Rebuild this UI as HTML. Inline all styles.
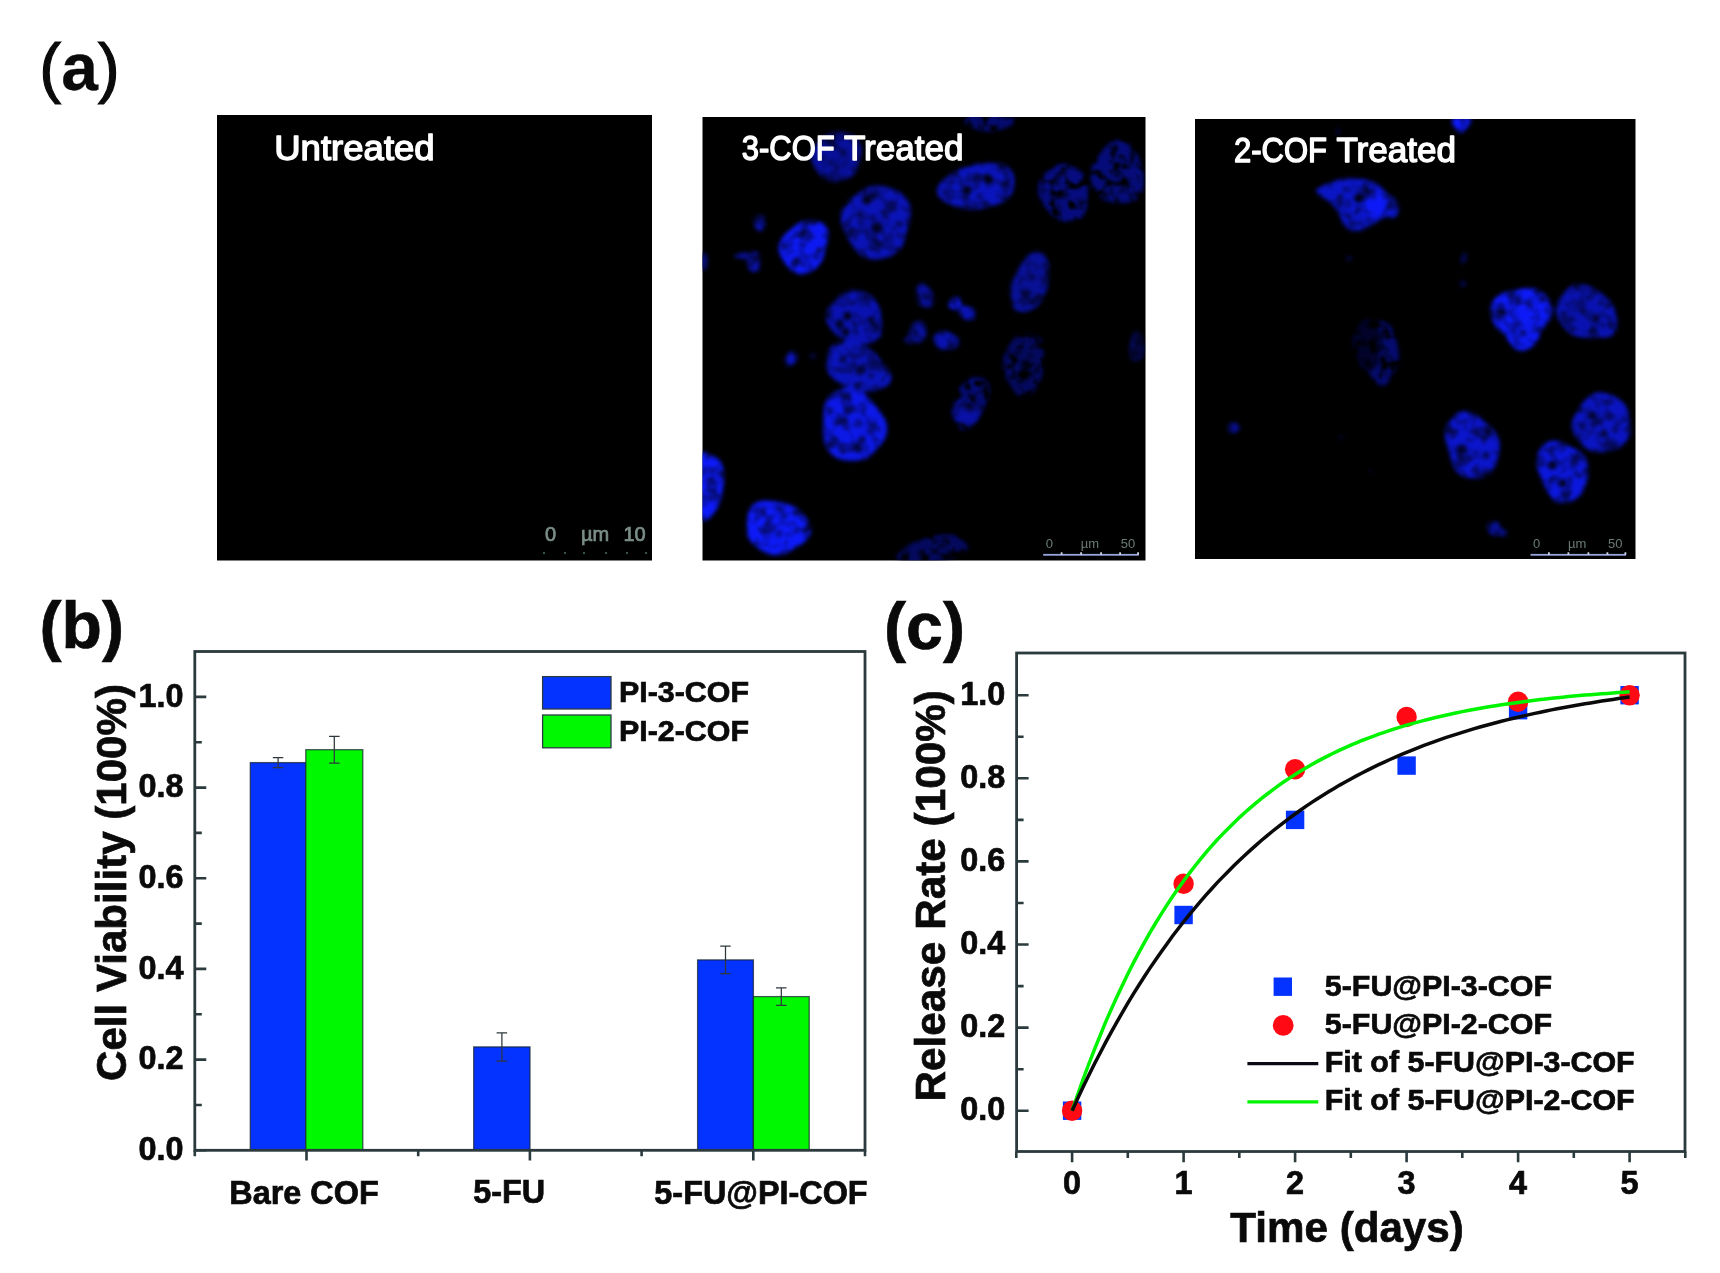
<!DOCTYPE html>
<html lang="en">
<head>
<meta charset="utf-8">
<title>Figure: cell imaging, viability and release</title>
<style>
html,body{margin:0;padding:0;background:#ffffff;}
body{width:1720px;height:1273px;overflow:hidden;position:relative;font-family:"Liberation Sans",sans-serif;}
svg{position:absolute;left:0;top:0;display:block;filter:blur(0.55px);}
text{font-family:"Liberation Sans",sans-serif;font-weight:bold;fill:#0a0a0a;stroke:#0a0a0a;stroke-width:0.7px;}
.tk{font-size:32.4px;}
.lg{font-size:30.4px;}
.ax{font-size:42px;}
.pl{font-size:66.5px;}
.im{font-size:34.6px;font-weight:normal;fill:#ffffff;stroke:#ffffff;stroke-width:1.4px;stroke-linejoin:round;}
.sb{font-size:13px;font-weight:normal;fill:#a9c4ba;stroke:none;}
</style>
</head>
<body>
<svg width="1720" height="1273" viewBox="0 0 1720 1273">

<defs>
<filter id="soft" x="-5%" y="-20%" width="110%" height="140%"><feGaussianBlur stdDeviation="0.5"/></filter>
<filter id="cells" x="0" y="0" width="100%" height="100%" color-interpolation-filters="sRGB">
  <feGaussianBlur in="SourceGraphic" stdDeviation="1.9" result="b"/>
  <feTurbulence type="fractalNoise" baseFrequency="0.075" numOctaves="2" seed="7" result="n"/>
  <feColorMatrix in="n" type="matrix" values="1.7 0 0 0 0.02  1.7 0 0 0 0.02  1.7 0 0 0 0.02  0 0 0 0 1" result="g0"/>
  <feGaussianBlur in="g0" stdDeviation="1.2" result="g"/>
  <feComposite in="b" in2="g" operator="arithmetic" k1="1" k2="0" k3="0" k4="0"/>
</filter>
<filter id="cellsD" x="0" y="0" width="100%" height="100%" color-interpolation-filters="sRGB">
  <feGaussianBlur in="SourceGraphic" stdDeviation="1.9" result="b"/>
  <feTurbulence type="fractalNoise" baseFrequency="0.1" numOctaves="2" seed="23" result="n"/>
  <feColorMatrix in="n" type="matrix" values="3.4 0 0 0 -0.85  3.4 0 0 0 -0.85  3.4 0 0 0 -0.85  0 0 0 0 1" result="g0"/>
  <feGaussianBlur in="g0" stdDeviation="1.1" result="g"/>
  <feComposite in="b" in2="g" operator="arithmetic" k1="1" k2="0" k3="0" k4="0"/>
</filter>
<clipPath id="cp2"><rect x="702.5" y="117" width="443" height="443.5"/></clipPath>
<clipPath id="cp3"><rect x="1195" y="119" width="440.5" height="440"/></clipPath>
</defs>

<g id="panel-a">
<text class="pl" x="39.2" y="89.8" textLength="80.6" lengthAdjust="spacingAndGlyphs" style="font-size:67px;stroke-width:0.3px"><tspan style="font-weight:normal;stroke-width:1.1px">(</tspan>a<tspan style="font-weight:normal;stroke-width:1.1px">)</tspan></text>
<rect x="217" y="115" width="435" height="445.5" fill="#000"/>
<rect x="702.5" y="117" width="443" height="443.5" fill="#000"/>
<rect x="1195" y="119" width="440.5" height="440" fill="#000"/>
<g clip-path="url(#cp2)"><g filter="url(#cellsD)"><rect x="702.5" y="117.0" width="443.0" height="443.5" fill="#000" fill-opacity="0.01"/>
<path d="M1015.2 119.9Q1015.0 121.0 1014.5 122.1Q1014.1 123.2 1013.0 124.1Q1011.9 125.1 1010.3 126.0Q1008.6 126.8 1006.7 127.5Q1004.8 128.2 1002.8 128.9Q1000.8 129.6 998.5 130.2Q996.1 130.9 993.3 131.3Q990.5 131.6 987.5 131.5Q984.6 131.3 982.0 130.7Q979.5 130.1 977.4 129.4Q975.3 128.6 973.4 127.9Q971.4 127.1 969.5 126.3Q967.6 125.4 966.2 124.4Q964.8 123.3 964.5 122.2Q964.3 121.0 965.0 119.9Q965.7 118.7 966.9 117.7Q968.2 116.7 969.7 115.8Q971.3 114.9 973.3 114.1Q975.3 113.4 977.7 112.9Q980.2 112.4 982.8 112.2Q985.4 112.1 988.0 112.0Q990.5 111.9 993.2 111.8Q995.8 111.7 998.8 111.6Q1001.8 111.6 1004.8 111.9Q1007.9 112.3 1010.2 113.1Q1012.5 114.0 1013.6 115.2Q1014.8 116.3 1015.0 117.5Q1015.3 118.7 1015.2 119.9Z" fill="#060c71"/>
<path d="M1087.9 189.4Q1088.0 192.7 1087.9 196.0Q1087.8 199.4 1087.5 202.8Q1087.1 206.3 1086.1 209.7Q1085.0 213.1 1082.9 215.8Q1080.9 218.4 1078.2 219.8Q1075.5 221.1 1072.6 221.5Q1069.8 221.8 1067.2 221.6Q1064.5 221.4 1062.0 220.7Q1059.5 220.1 1057.2 218.8Q1054.9 217.6 1052.9 215.7Q1051.0 213.9 1049.2 211.8Q1047.4 209.7 1045.6 207.4Q1043.8 205.1 1042.0 202.4Q1040.3 199.6 1039.1 196.2Q1038.0 192.7 1038.1 188.9Q1038.2 185.2 1039.6 181.9Q1041.0 178.5 1043.1 176.0Q1045.2 173.4 1047.4 171.5Q1049.7 169.5 1052.0 167.9Q1054.3 166.3 1056.8 165.2Q1059.3 164.2 1061.9 164.1Q1064.5 163.9 1067.0 164.5Q1069.5 165.1 1071.9 166.2Q1074.3 167.2 1076.7 168.5Q1079.1 169.9 1081.2 171.9Q1083.4 173.9 1084.9 176.7Q1086.4 179.5 1087.1 182.8Q1087.8 186.1 1087.9 189.4Z" fill="#070d81"/><circle cx="1064.5" cy="194.7" r="4.0" fill="#000" fill-opacity="0.60"/><circle cx="1056.5" cy="182.7" r="3.0" fill="#000" fill-opacity="0.60"/><circle cx="1072.5" cy="204.7" r="3.0" fill="#000" fill-opacity="0.50"/><circle cx="1058.5" cy="206.7" r="3.0" fill="#000" fill-opacity="0.50"/>
<path d="M1143.3 175.0Q1143.7 178.3 1143.7 181.9Q1143.6 185.6 1142.7 189.3Q1141.7 193.0 1139.5 196.0Q1137.3 199.1 1134.2 200.8Q1131.1 202.4 1127.8 202.8Q1124.5 203.3 1121.5 203.1Q1118.4 202.9 1115.6 202.6Q1112.8 202.3 1109.9 201.8Q1107.1 201.2 1104.4 200.0Q1101.7 198.7 1099.4 196.6Q1097.1 194.5 1095.3 191.8Q1093.6 189.1 1092.3 186.0Q1091.1 182.9 1090.6 179.4Q1090.1 176.0 1090.6 172.5Q1091.0 169.0 1092.4 165.8Q1093.7 162.6 1095.6 159.9Q1097.4 157.2 1099.3 154.6Q1101.1 152.0 1103.2 149.4Q1105.3 146.7 1108.0 144.4Q1110.6 142.0 1113.8 140.9Q1117.1 139.7 1120.3 140.2Q1123.6 140.7 1126.4 142.5Q1129.2 144.3 1131.4 146.7Q1133.7 149.1 1135.4 151.6Q1137.2 154.2 1138.5 156.9Q1139.9 159.6 1140.8 162.6Q1141.8 165.5 1142.4 168.6Q1143.0 171.6 1143.3 175.0Z" fill="#060d7b"/><circle cx="1117.8" cy="173.7" r="4.0" fill="#000" fill-opacity="0.60"/><circle cx="1107.8" cy="181.7" r="3.0" fill="#000" fill-opacity="0.60"/><circle cx="1125.8" cy="161.7" r="3.0" fill="#000" fill-opacity="0.50"/><circle cx="1127.8" cy="183.7" r="3.0" fill="#000" fill-opacity="0.50"/>
<path d="M1043.5 360.7Q1043.1 364.0 1043.0 367.1Q1042.8 370.3 1042.4 373.5Q1042.1 376.7 1041.1 379.7Q1040.1 382.8 1038.6 385.2Q1037.0 387.7 1035.1 389.7Q1033.2 391.7 1031.1 393.4Q1029.0 395.2 1026.6 396.2Q1024.2 397.3 1021.7 396.9Q1019.2 396.6 1017.0 394.7Q1014.8 392.7 1013.2 390.1Q1011.6 387.4 1010.1 384.8Q1008.7 382.2 1007.2 379.7Q1005.6 377.2 1004.3 374.2Q1002.9 371.2 1002.4 367.6Q1001.9 364.0 1002.6 360.5Q1003.2 356.9 1004.6 354.0Q1005.9 351.0 1007.3 348.4Q1008.7 345.8 1010.2 343.4Q1011.7 341.0 1013.6 339.0Q1015.4 337.0 1017.5 335.8Q1019.7 334.7 1021.9 334.4Q1024.2 334.1 1026.5 334.1Q1028.8 334.0 1031.3 334.2Q1033.8 334.4 1036.4 335.6Q1038.9 336.8 1040.8 339.5Q1042.7 342.2 1043.5 346.0Q1044.2 349.8 1044.1 353.6Q1043.9 357.4 1043.5 360.7Z" fill="#050a60"/><circle cx="1024.2" cy="364.0" r="4.0" fill="#000" fill-opacity="0.60"/><circle cx="1018.2" cy="352.0" r="3.0" fill="#000" fill-opacity="0.60"/><circle cx="1030.2" cy="374.0" r="3.5" fill="#000" fill-opacity="0.60"/><circle cx="1020.2" cy="380.0" r="3.0" fill="#000" fill-opacity="0.50"/><circle cx="1030.2" cy="356.0" r="3.0" fill="#000" fill-opacity="0.50"/>
<path d="M986.0 403.0Q984.9 405.9 983.8 408.4Q982.7 410.9 981.5 413.3Q980.4 415.6 979.0 417.8Q977.6 419.9 976.0 421.7Q974.4 423.5 972.6 425.0Q970.9 426.6 969.0 427.9Q967.0 429.2 965.0 429.7Q962.9 430.3 961.1 429.5Q959.3 428.7 958.1 426.7Q956.9 424.7 956.2 422.2Q955.5 419.6 955.1 417.1Q954.6 414.6 954.1 412.1Q953.7 409.5 953.5 406.7Q953.3 403.8 953.8 400.7Q954.3 397.7 955.5 394.8Q956.7 392.0 958.3 389.6Q959.9 387.3 961.5 385.4Q963.2 383.5 964.9 381.9Q966.6 380.3 968.3 379.3Q970.1 378.2 971.9 377.8Q973.6 377.4 975.4 377.5Q977.1 377.5 978.8 377.7Q980.6 377.8 982.5 378.3Q984.4 378.8 986.1 380.2Q987.7 381.7 988.6 384.3Q989.5 387.0 989.3 390.3Q989.0 393.7 988.1 397.0Q987.2 400.2 986.0 403.0Z" fill="#060c76"/><circle cx="970.5" cy="396.0" r="3.0" fill="#000" fill-opacity="0.60"/><circle cx="972.5" cy="406.0" r="3.0" fill="#000" fill-opacity="0.50"/><circle cx="967.5" cy="388.0" r="3.0" fill="#000" fill-opacity="0.50"/>
<path d="M966.0 543.6Q967.2 544.8 967.8 546.2Q968.4 547.6 967.6 549.2Q966.7 550.7 964.4 552.3Q962.1 553.8 959.2 555.1Q956.3 556.4 953.1 557.6Q949.9 558.8 946.4 559.8Q942.9 560.8 939.1 561.4Q935.4 562.0 931.7 562.2Q928.0 562.4 924.5 562.4Q921.0 562.4 917.3 562.4Q913.7 562.4 909.8 562.3Q905.9 562.1 902.5 561.5Q899.2 560.8 897.6 559.4Q896.0 558.1 896.6 556.3Q897.1 554.6 898.9 553.0Q900.6 551.3 902.5 549.9Q904.4 548.4 906.1 547.0Q907.9 545.7 910.1 544.3Q912.3 543.0 915.1 541.8Q917.9 540.6 921.2 539.6Q924.5 538.5 928.2 537.5Q931.8 536.6 935.9 535.8Q940.0 534.9 944.2 534.6Q948.5 534.3 952.1 534.7Q955.7 535.2 957.9 536.3Q960.1 537.4 961.4 538.7Q962.6 540.0 963.7 541.2Q964.8 542.4 966.0 543.6Z" fill="#050a60"/>
</g><g filter="url(#cells)"><rect x="702.5" y="117.0" width="443.0" height="443.5" fill="#000" fill-opacity="0.01"/>
<path d="M861.1 153.7Q860.6 156.5 860.0 159.1Q859.5 161.7 858.8 164.2Q858.2 166.8 857.2 169.3Q856.1 171.9 854.2 173.9Q852.4 176.0 849.9 177.4Q847.5 178.7 844.9 179.6Q842.3 180.4 839.5 180.9Q836.8 181.5 834.0 181.5Q831.1 181.5 828.4 180.6Q825.6 179.7 823.3 178.0Q821.0 176.3 819.3 174.1Q817.5 171.9 815.9 169.6Q814.4 167.3 813.0 164.8Q811.7 162.2 811.0 159.4Q810.3 156.5 810.8 153.6Q811.3 150.7 812.8 148.2Q814.4 145.7 816.4 143.8Q818.4 141.8 820.4 140.2Q822.4 138.5 824.5 136.9Q826.6 135.3 829.0 134.0Q831.4 132.8 834.1 132.3Q836.8 131.8 839.6 132.0Q842.4 132.2 845.1 132.8Q847.9 133.5 850.6 134.6Q853.4 135.7 855.8 137.6Q858.1 139.5 859.6 142.2Q861.0 144.8 861.3 147.9Q861.5 150.9 861.1 153.7Z" fill="#08109b"/><circle cx="830.8" cy="162.5" r="3.0" fill="#000" fill-opacity="0.50"/><circle cx="843.8" cy="152.5" r="3.0" fill="#000" fill-opacity="0.50"/>
<path d="M1014.1 177.2Q1014.3 180.0 1014.2 182.7Q1014.1 185.4 1013.6 188.2Q1013.1 191.0 1011.6 193.7Q1010.1 196.5 1007.2 198.9Q1004.4 201.2 1000.8 202.9Q997.1 204.6 993.2 205.8Q989.4 207.0 985.5 207.8Q981.7 208.7 977.8 209.1Q974.0 209.6 970.1 209.5Q966.3 209.4 962.8 208.6Q959.3 207.8 956.0 206.7Q952.8 205.5 949.6 204.1Q946.4 202.6 943.4 200.7Q940.4 198.8 938.6 196.2Q936.8 193.6 936.9 190.6Q937.1 187.5 939.2 184.6Q941.2 181.7 944.2 179.3Q947.2 176.8 950.3 174.8Q953.4 172.8 956.5 171.0Q959.6 169.2 963.1 167.8Q966.5 166.3 970.2 165.4Q973.9 164.4 977.8 163.9Q981.6 163.5 985.5 163.2Q989.5 163.0 993.6 163.2Q997.8 163.3 1001.6 164.3Q1005.5 165.3 1008.3 167.2Q1011.1 169.2 1012.4 171.8Q1013.8 174.4 1014.1 177.2Z" fill="#0a14bc"/><circle cx="966.8" cy="190.4" r="4.4" fill="#000" fill-opacity="0.90"/><circle cx="988.8" cy="179.4" r="4.4" fill="#000" fill-opacity="0.90"/><circle cx="979.8" cy="196.4" r="3.0" fill="#000" fill-opacity="0.50"/>
<path d="M910.3 208.0Q911.1 212.7 910.3 217.2Q909.6 221.6 908.5 225.5Q907.4 229.3 906.5 233.0Q905.6 236.7 904.5 240.5Q903.4 244.2 901.4 247.5Q899.3 250.8 896.3 253.1Q893.3 255.3 889.8 256.6Q886.3 257.9 882.7 258.6Q879.1 259.3 875.2 259.5Q871.4 259.6 867.6 258.5Q863.7 257.4 860.4 254.8Q857.1 252.2 854.6 248.8Q852.1 245.3 850.0 241.8Q848.0 238.2 845.9 234.4Q843.8 230.7 842.3 226.5Q840.7 222.2 840.7 217.7Q840.6 213.1 842.4 209.2Q844.2 205.2 847.1 202.4Q849.9 199.5 852.9 197.3Q855.8 195.1 858.6 193.1Q861.4 191.0 864.4 189.1Q867.4 187.3 870.9 186.4Q874.4 185.5 878.1 185.7Q881.8 185.8 885.5 186.7Q889.3 187.6 893.1 189.1Q897.0 190.5 900.7 193.0Q904.4 195.5 907.0 199.4Q909.6 203.3 910.3 208.0Z" fill="#0a13b6"/><circle cx="866.7" cy="199.9" r="4.5" fill="#000" fill-opacity="0.90"/><circle cx="876.7" cy="227.9" r="5.9" fill="#000" fill-opacity="0.80"/><circle cx="872.7" cy="217.9" r="3.0" fill="#000" fill-opacity="0.60"/><circle cx="888.7" cy="237.9" r="3.0" fill="#000" fill-opacity="0.40"/>
<path d="M825.0 251.2Q824.3 254.0 823.5 256.9Q822.7 259.8 821.2 262.5Q819.6 265.2 817.4 267.3Q815.2 269.3 812.7 270.6Q810.2 271.9 807.6 272.7Q805.0 273.6 802.4 274.0Q799.7 274.4 797.1 274.0Q794.5 273.5 792.4 272.0Q790.2 270.5 788.6 268.4Q787.0 266.2 785.5 264.0Q784.0 261.8 782.5 259.5Q781.0 257.2 779.8 254.3Q778.6 251.4 778.6 248.0Q778.6 244.7 780.0 241.5Q781.4 238.4 783.6 235.9Q785.7 233.5 788.0 231.6Q790.2 229.7 792.3 227.9Q794.4 226.2 796.6 224.6Q798.7 223.1 801.2 222.1Q803.6 221.1 806.1 220.7Q808.6 220.4 811.2 220.5Q813.8 220.6 816.5 221.0Q819.2 221.5 821.8 222.8Q824.4 224.1 826.1 226.6Q827.9 229.1 828.2 232.4Q828.6 235.8 828.0 239.1Q827.4 242.5 826.5 245.4Q825.6 248.4 825.0 251.2Z" fill="#0d19f1"/><circle cx="802.3" cy="244.7" r="3.0" fill="#000" fill-opacity="0.50"/>
<path d="M765.7 222.9Q765.5 223.8 765.2 224.6Q764.9 225.5 764.5 226.2Q764.2 227.0 763.8 227.7Q763.4 228.4 762.9 229.2Q762.4 229.9 761.8 230.4Q761.2 230.8 760.5 230.9Q759.8 231.0 759.2 230.7Q758.6 230.5 758.1 230.1Q757.6 229.7 757.2 229.3Q756.7 228.9 756.2 228.5Q755.8 228.1 755.4 227.5Q755.0 226.9 754.8 226.1Q754.5 225.4 754.4 224.5Q754.3 223.6 754.3 222.7Q754.3 221.8 754.4 220.8Q754.5 219.9 754.9 219.0Q755.3 218.1 755.9 217.5Q756.4 216.8 757.1 216.5Q757.8 216.2 758.4 216.1Q759.0 216.0 759.6 215.8Q760.1 215.6 760.7 215.5Q761.3 215.3 761.9 215.3Q762.5 215.4 763.1 215.7Q763.6 216.0 764.1 216.6Q764.5 217.2 764.8 217.9Q765.1 218.6 765.4 219.4Q765.6 220.2 765.7 221.1Q765.8 221.9 765.7 222.9Z" fill="#0a14bc"/>
<path d="M760.4 260.9Q760.3 262.0 760.1 263.0Q760.0 264.0 759.9 265.0Q759.8 266.0 759.7 267.2Q759.5 268.3 759.1 269.4Q758.7 270.4 758.0 271.1Q757.3 271.7 756.4 271.9Q755.6 272.1 754.8 272.0Q754.0 272.0 753.2 271.9Q752.4 271.8 751.7 271.5Q750.9 271.3 750.2 270.7Q749.5 270.1 749.0 269.2Q748.5 268.3 748.2 267.2Q747.9 266.2 747.6 265.2Q747.3 264.2 747.1 263.1Q747.0 262.0 747.0 260.9Q747.1 259.7 747.4 258.7Q747.8 257.7 748.4 257.0Q749.0 256.3 749.5 255.6Q750.1 255.0 750.6 254.2Q751.1 253.5 751.8 252.7Q752.4 251.9 753.2 251.5Q754.0 251.0 754.9 251.1Q755.7 251.2 756.5 251.8Q757.2 252.4 757.9 253.2Q758.5 253.9 759.0 254.8Q759.6 255.6 760.0 256.6Q760.3 257.6 760.4 258.8Q760.5 259.9 760.4 260.9Z" fill="#0911a6"/>
<path d="M758.4 254.2Q758.5 254.5 758.7 254.8Q758.9 255.1 758.9 255.5Q759.0 255.9 758.6 256.3Q758.1 256.7 757.1 257.1Q756.1 257.5 754.7 257.8Q753.3 258.1 751.9 258.3Q750.4 258.5 748.8 258.7Q747.3 258.9 745.8 258.9Q744.3 259.0 743.1 258.9Q741.8 258.8 740.9 258.6Q739.9 258.4 739.1 258.2Q738.3 258.0 737.4 257.8Q736.5 257.7 735.6 257.5Q734.7 257.3 734.1 257.0Q733.6 256.7 733.7 256.3Q733.7 255.9 734.4 255.5Q735.0 255.1 735.8 254.8Q736.6 254.4 737.5 254.0Q738.5 253.7 739.6 253.3Q740.8 253.0 742.3 252.8Q743.7 252.5 745.2 252.4Q746.7 252.3 748.1 252.2Q749.6 252.2 751.0 252.2Q752.3 252.2 753.6 252.2Q754.9 252.3 756.0 252.4Q757.0 252.6 757.5 252.9Q758.1 253.2 758.2 253.5Q758.4 253.9 758.4 254.2Z" fill="#080f93"/>
<path d="M707.4 260.6Q707.4 261.7 707.4 262.8Q707.3 263.9 707.2 265.0Q707.2 266.1 707.0 267.3Q706.9 268.4 706.5 269.2Q706.2 270.1 705.7 270.5Q705.3 271.0 704.8 271.1Q704.4 271.2 703.9 271.2Q703.5 271.2 703.1 271.1Q702.7 271.0 702.2 270.6Q701.8 270.3 701.5 269.7Q701.2 269.0 700.9 268.3Q700.6 267.5 700.3 266.7Q700.0 265.9 699.7 264.9Q699.4 264.0 699.2 262.9Q699.1 261.7 699.1 260.4Q699.1 259.2 699.4 258.1Q699.6 257.0 700.0 256.3Q700.4 255.5 700.7 254.8Q701.1 254.2 701.5 253.6Q701.8 253.1 702.2 252.7Q702.6 252.2 703.1 252.1Q703.5 252.1 703.9 252.3Q704.3 252.5 704.7 252.8Q705.1 253.1 705.6 253.6Q706.0 254.0 706.4 254.6Q706.7 255.2 707.0 256.2Q707.3 257.1 707.4 258.3Q707.5 259.4 707.4 260.6Z" fill="#060d79"/>
<path d="M1047.4 287.4Q1046.8 290.7 1045.5 294.2Q1044.2 297.7 1042.1 300.7Q1040.0 303.8 1037.6 305.9Q1035.1 307.9 1032.6 309.2Q1030.1 310.5 1027.8 311.3Q1025.4 312.1 1023.1 312.3Q1020.9 312.6 1018.9 312.1Q1016.9 311.5 1015.4 310.0Q1013.9 308.5 1012.9 306.4Q1011.9 304.3 1011.3 301.9Q1010.7 299.5 1010.3 296.8Q1010.0 294.2 1010.2 291.2Q1010.3 288.2 1011.2 285.0Q1012.0 281.9 1013.4 278.8Q1014.8 275.8 1016.3 272.9Q1017.9 270.0 1019.6 267.1Q1021.3 264.1 1023.3 261.1Q1025.3 258.1 1027.8 255.7Q1030.3 253.3 1032.9 252.2Q1035.5 251.2 1037.7 251.5Q1040.0 251.8 1041.8 253.0Q1043.6 254.3 1044.9 256.0Q1046.3 257.8 1047.2 259.9Q1048.1 262.1 1048.6 264.6Q1049.0 267.2 1048.9 269.9Q1048.9 272.7 1048.7 275.4Q1048.5 278.2 1048.2 281.2Q1048.0 284.1 1047.4 287.4Z" fill="#081096"/><circle cx="1032.2" cy="277.0" r="3.0" fill="#000" fill-opacity="0.60"/><circle cx="1027.2" cy="293.0" r="3.5" fill="#000" fill-opacity="0.70"/><circle cx="1032.2" cy="301.0" r="3.0" fill="#000" fill-opacity="0.50"/>
<path d="M881.6 322.3Q882.0 325.1 882.1 328.2Q882.1 331.3 881.0 334.3Q879.9 337.3 877.4 339.5Q874.9 341.6 871.7 342.7Q868.4 343.7 865.0 344.0Q861.7 344.2 858.4 344.1Q855.2 344.0 852.0 343.4Q848.9 342.8 845.9 341.5Q843.0 340.3 840.6 338.4Q838.1 336.5 836.0 334.4Q833.9 332.2 831.9 329.9Q829.9 327.6 828.3 324.9Q826.6 322.2 826.0 319.2Q825.4 316.2 826.2 313.3Q826.9 310.3 828.7 307.9Q830.5 305.5 832.5 303.5Q834.6 301.4 836.5 299.4Q838.5 297.3 840.8 295.3Q843.1 293.3 846.1 291.9Q849.0 290.5 852.4 290.3Q855.8 290.1 859.2 290.9Q862.5 291.7 865.6 293.1Q868.6 294.6 871.3 296.5Q874.0 298.4 876.0 300.8Q878.0 303.2 879.1 306.0Q880.2 308.7 880.5 311.5Q880.9 314.3 881.1 316.9Q881.2 319.5 881.6 322.3Z" fill="#0912b1"/><circle cx="847.5" cy="316.0" r="4.3" fill="#000" fill-opacity="0.90"/><circle cx="839.5" cy="324.0" r="3.9" fill="#000" fill-opacity="0.80"/><circle cx="845.5" cy="332.0" r="3.9" fill="#000" fill-opacity="0.80"/><circle cx="863.5" cy="322.0" r="3.0" fill="#000" fill-opacity="0.40"/>
<path d="M931.8 291.8Q932.5 292.8 932.9 294.0Q933.3 295.2 933.4 296.5Q933.5 297.7 933.5 298.9Q933.5 300.2 933.4 301.5Q933.2 302.7 932.9 304.0Q932.5 305.2 931.8 306.1Q931.0 307.0 930.0 307.3Q929.0 307.7 927.8 307.6Q926.7 307.5 925.7 307.2Q924.6 307.0 923.6 306.7Q922.5 306.5 921.5 306.0Q920.4 305.5 919.5 304.5Q918.6 303.6 918.0 302.4Q917.4 301.1 917.0 299.9Q916.7 298.6 916.4 297.4Q916.2 296.2 916.0 294.9Q915.8 293.7 915.7 292.5Q915.7 291.2 916.0 290.1Q916.3 289.0 916.8 288.0Q917.4 287.0 918.0 286.1Q918.6 285.2 919.4 284.4Q920.2 283.6 921.2 283.0Q922.2 282.5 923.4 282.6Q924.6 282.7 925.7 283.5Q926.8 284.3 927.7 285.4Q928.5 286.6 929.2 287.6Q929.9 288.7 930.6 289.7Q931.2 290.7 931.8 291.8Z" fill="#080f93"/>
<path d="M961.7 302.8Q961.8 303.5 961.9 304.2Q962.0 305.0 961.9 305.8Q961.8 306.5 961.4 307.2Q960.9 307.8 960.2 308.2Q959.6 308.6 958.9 308.8Q958.1 309.0 957.5 309.1Q956.8 309.3 956.2 309.4Q955.5 309.5 954.8 309.6Q954.1 309.6 953.4 309.4Q952.8 309.2 952.1 308.9Q951.5 308.6 950.8 308.1Q950.2 307.7 949.6 307.2Q949.0 306.6 948.7 305.9Q948.3 305.1 948.4 304.3Q948.4 303.5 948.8 302.8Q949.2 302.1 949.7 301.5Q950.2 300.9 950.6 300.4Q951.0 299.9 951.4 299.4Q951.8 298.8 952.3 298.3Q952.7 297.8 953.4 297.5Q954.0 297.1 954.8 297.0Q955.5 296.9 956.2 297.0Q957.0 297.1 957.7 297.2Q958.4 297.4 959.1 297.8Q959.8 298.2 960.2 298.8Q960.7 299.3 961.0 300.0Q961.2 300.7 961.4 301.4Q961.5 302.1 961.7 302.8Z" fill="#0c18e4"/>
<path d="M975.5 316.8Q975.4 317.6 974.9 318.1Q974.4 318.7 973.7 319.0Q972.9 319.3 972.1 319.5Q971.3 319.6 970.5 319.8Q969.7 320.0 968.9 320.1Q968.0 320.2 967.0 320.0Q966.0 319.9 965.0 319.4Q964.1 318.9 963.2 318.3Q962.4 317.7 961.7 316.9Q961.0 316.2 960.4 315.4Q959.7 314.7 959.4 313.8Q959.0 313.0 959.0 312.2Q959.1 311.4 959.4 310.7Q959.8 310.1 960.3 309.6Q960.7 309.1 961.0 308.5Q961.4 308.0 961.7 307.4Q962.1 306.8 962.7 306.3Q963.3 305.8 964.2 305.6Q965.0 305.4 966.0 305.5Q967.0 305.6 968.0 305.9Q969.0 306.2 970.0 306.6Q970.9 307.1 971.8 307.6Q972.7 308.2 973.4 309.0Q974.1 309.8 974.4 310.6Q974.7 311.4 974.9 312.2Q975.1 313.0 975.2 313.8Q975.4 314.5 975.5 315.3Q975.6 316.1 975.5 316.8Z" fill="#0a14bc"/>
<path d="M926.2 330.5Q926.3 331.5 926.3 332.6Q926.4 333.6 926.1 334.7Q925.9 335.7 925.4 336.7Q924.9 337.6 924.2 338.4Q923.5 339.1 922.7 339.9Q921.9 340.6 921.0 341.2Q920.1 341.8 919.1 342.1Q918.0 342.3 916.9 342.0Q915.9 341.8 915.0 341.1Q914.1 340.5 913.4 339.7Q912.6 339.0 911.9 338.3Q911.2 337.6 910.4 336.7Q909.7 335.9 909.3 334.9Q908.9 333.8 908.9 332.7Q908.9 331.5 909.2 330.4Q909.5 329.4 909.9 328.4Q910.4 327.4 910.8 326.5Q911.2 325.5 911.8 324.6Q912.4 323.8 913.3 323.1Q914.1 322.5 915.1 322.2Q916.0 321.9 917.0 321.8Q918.0 321.6 919.0 321.6Q920.1 321.5 921.2 321.6Q922.2 321.7 923.2 322.3Q924.2 322.8 924.8 323.9Q925.5 324.9 925.7 326.1Q925.9 327.3 926.0 328.3Q926.1 329.4 926.2 330.5Z" fill="#0811a1"/>
<path d="M922.2 339.6Q922.3 340.0 922.3 340.4Q922.2 340.8 921.9 341.2Q921.6 341.6 921.1 342.0Q920.5 342.3 919.7 342.6Q918.8 342.8 917.8 343.0Q916.8 343.1 915.8 343.1Q914.8 343.2 913.9 343.2Q913.0 343.2 912.0 343.3Q911.1 343.3 910.1 343.2Q909.1 343.2 908.2 343.0Q907.3 342.8 906.6 342.5Q906.0 342.2 905.5 341.8Q905.0 341.5 904.7 341.1Q904.3 340.8 904.1 340.4Q903.9 340.0 903.9 339.6Q904.0 339.2 904.4 338.8Q904.8 338.5 905.4 338.1Q905.9 337.8 906.6 337.5Q907.3 337.2 908.1 337.0Q908.9 336.7 909.9 336.6Q910.9 336.4 911.9 336.4Q913.0 336.4 914.0 336.6Q914.9 336.7 915.7 336.9Q916.5 337.1 917.3 337.3Q918.1 337.5 918.9 337.7Q919.7 337.9 920.4 338.2Q921.1 338.5 921.6 338.8Q922.1 339.2 922.2 339.6Z" fill="#080f93"/>
<path d="M958.6 343.9Q958.2 344.9 957.6 345.7Q957.0 346.5 956.1 347.2Q955.2 347.8 954.1 348.2Q953.0 348.5 951.8 348.7Q950.6 348.8 949.4 349.0Q948.2 349.1 946.9 349.3Q945.6 349.4 944.1 349.4Q942.6 349.4 941.1 348.9Q939.6 348.4 938.3 347.6Q937.0 346.7 936.2 345.5Q935.4 344.4 934.9 343.3Q934.4 342.2 934.1 341.1Q933.8 340.1 933.7 339.0Q933.6 338.0 933.8 337.1Q934.1 336.1 934.7 335.3Q935.2 334.5 936.0 333.8Q936.7 333.1 937.6 332.5Q938.4 331.8 939.5 331.3Q940.6 330.8 941.9 330.6Q943.3 330.5 944.7 330.8Q946.2 331.1 947.5 331.6Q948.9 332.2 950.1 332.9Q951.3 333.5 952.6 334.1Q953.8 334.8 955.1 335.6Q956.3 336.4 957.3 337.4Q958.2 338.5 958.6 339.6Q959.1 340.8 959.0 341.8Q958.9 342.9 958.6 343.9Z" fill="#0912b1"/>
<path d="M796.8 359.6Q796.5 360.4 796.1 361.2Q795.7 362.0 795.2 362.5Q794.6 363.1 794.0 363.4Q793.4 363.8 792.8 364.1Q792.3 364.4 791.7 364.7Q791.1 365.1 790.5 365.4Q789.9 365.7 789.2 365.8Q788.5 365.9 787.9 365.7Q787.3 365.5 786.8 365.0Q786.3 364.4 786.0 363.8Q785.6 363.1 785.4 362.4Q785.2 361.6 785.2 360.8Q785.2 359.9 785.4 359.1Q785.6 358.2 786.0 357.5Q786.3 356.7 786.7 356.1Q787.1 355.4 787.5 354.7Q787.9 354.1 788.4 353.4Q788.8 352.8 789.4 352.2Q790.0 351.7 790.6 351.5Q791.3 351.2 791.9 351.3Q792.5 351.3 793.1 351.4Q793.7 351.6 794.3 351.8Q794.8 352.1 795.4 352.4Q795.9 352.8 796.3 353.4Q796.7 353.9 796.9 354.7Q797.1 355.4 797.1 356.3Q797.1 357.1 797.1 357.9Q797.0 358.8 796.8 359.6Z" fill="#0a14bc"/>
<path d="M816.0 355.5Q816.1 355.8 816.1 356.1Q816.1 356.4 816.0 356.7Q815.9 357.0 815.7 357.2Q815.5 357.5 815.2 357.7Q815.0 357.9 814.7 358.0Q814.3 358.1 814.0 358.2Q813.7 358.2 813.3 358.2Q813.0 358.2 812.7 358.1Q812.4 358.1 812.1 358.0Q811.7 358.0 811.4 357.9Q811.1 357.8 810.9 357.6Q810.7 357.4 810.5 357.1Q810.4 356.9 810.3 356.6Q810.2 356.3 810.2 356.1Q810.1 355.8 810.1 355.5Q810.1 355.2 810.1 355.0Q810.2 354.7 810.4 354.4Q810.5 354.2 810.8 354.0Q811.0 353.7 811.3 353.6Q811.6 353.4 812.0 353.3Q812.3 353.2 812.6 353.2Q813.0 353.2 813.3 353.3Q813.7 353.4 813.9 353.5Q814.2 353.7 814.4 353.9Q814.7 354.1 814.9 354.2Q815.1 354.4 815.3 354.6Q815.5 354.8 815.7 355.0Q815.9 355.2 816.0 355.5Z" fill="#050a5e"/>
<path d="M891.5 377.1Q891.8 380.1 890.2 382.5Q888.7 385.0 885.9 386.6Q883.1 388.2 880.1 389.2Q877.0 390.3 873.8 391.0Q870.6 391.8 867.1 391.9Q863.6 392.1 860.0 391.4Q856.4 390.7 853.1 389.3Q849.8 387.9 846.7 386.4Q843.6 384.8 840.5 383.2Q837.4 381.5 834.5 379.5Q831.6 377.4 829.5 374.8Q827.5 372.2 826.9 369.5Q826.3 366.7 826.6 364.2Q827.0 361.6 827.4 359.2Q827.9 356.8 828.3 354.2Q828.7 351.7 829.8 349.1Q830.9 346.5 833.3 344.7Q835.8 342.8 839.3 342.2Q842.9 341.5 846.7 341.8Q850.5 342.0 854.3 342.8Q858.0 343.6 861.5 344.8Q865.0 346.0 868.1 347.9Q871.2 349.7 873.5 352.0Q875.8 354.3 877.5 356.6Q879.3 359.0 881.1 361.2Q882.9 363.4 885.1 365.8Q887.3 368.3 889.2 371.2Q891.1 374.1 891.5 377.1Z" fill="#0a14bc"/><circle cx="843.2" cy="359.5" r="3.5" fill="#000" fill-opacity="0.60"/><circle cx="859.2" cy="371.5" r="4.0" fill="#000" fill-opacity="0.60"/><circle cx="871.2" cy="375.5" r="3.0" fill="#000" fill-opacity="0.50"/><circle cx="855.2" cy="357.5" r="3.0" fill="#000" fill-opacity="0.40"/>
<path d="M978.8 414.1Q978.3 415.2 978.0 416.2Q977.7 417.3 977.4 418.4Q977.1 419.6 976.3 420.6Q975.5 421.6 974.3 422.3Q973.1 422.9 971.6 423.2Q970.2 423.6 968.7 423.7Q967.2 423.9 965.6 424.0Q964.1 424.0 962.4 423.8Q960.8 423.6 959.4 422.8Q957.9 422.1 956.8 421.1Q955.7 420.1 954.9 419.0Q954.1 417.8 953.3 416.7Q952.5 415.6 951.9 414.3Q951.3 413.0 951.3 411.7Q951.3 410.4 952.1 409.3Q952.9 408.2 954.1 407.4Q955.3 406.6 956.4 406.0Q957.6 405.4 958.6 404.8Q959.7 404.1 960.8 403.4Q961.9 402.7 963.4 402.3Q964.8 401.9 966.4 401.9Q967.9 401.9 969.5 402.3Q971.1 402.6 972.7 403.1Q974.3 403.7 975.7 404.5Q977.2 405.3 978.3 406.4Q979.4 407.6 979.7 409.0Q980.0 410.4 979.6 411.7Q979.3 413.0 978.8 414.1Z" fill="#0911a6"/>
<path d="M878.1 408.7Q881.0 412.1 883.5 416.2Q886.0 420.3 886.9 425.0Q887.7 429.6 886.7 433.8Q885.6 437.9 883.4 441.0Q881.2 444.1 878.9 446.6Q876.7 449.0 874.6 451.3Q872.5 453.6 870.2 455.7Q867.8 457.7 864.9 458.9Q862.0 460.1 858.8 460.5Q855.6 460.8 852.1 460.8Q848.6 460.8 844.7 460.3Q840.9 459.8 836.8 457.9Q832.8 456.0 829.6 452.3Q826.4 448.6 824.9 443.7Q823.4 438.9 823.3 434.3Q823.2 429.7 823.5 425.7Q823.7 421.7 823.7 417.9Q823.6 414.1 823.9 410.3Q824.1 406.4 825.4 403.0Q826.7 399.6 829.0 397.1Q831.2 394.6 834.0 392.9Q836.8 391.2 839.8 389.8Q842.8 388.5 846.2 387.8Q849.6 387.0 853.2 387.8Q856.9 388.5 860.3 390.8Q863.8 393.1 866.7 396.1Q869.6 399.2 872.4 402.3Q875.2 405.4 878.1 408.7Z" fill="#0c18e6"/><circle cx="858.7" cy="423.3" r="4.0" fill="#000" fill-opacity="0.45"/><circle cx="848.7" cy="411.3" r="3.0" fill="#000" fill-opacity="0.35"/><circle cx="862.7" cy="437.3" r="3.0" fill="#000" fill-opacity="0.30"/>
<path d="M1144.6 345.5Q1144.6 347.0 1144.6 348.5Q1144.5 350.0 1144.4 351.5Q1144.2 353.1 1143.8 354.5Q1143.4 355.9 1142.7 357.0Q1142.0 358.0 1141.2 358.6Q1140.4 359.2 1139.5 359.6Q1138.7 359.9 1137.8 360.3Q1137.0 360.7 1136.1 361.1Q1135.1 361.4 1134.1 361.2Q1133.1 361.0 1132.3 360.1Q1131.5 359.2 1130.9 357.7Q1130.4 356.3 1130.1 354.7Q1129.8 353.1 1129.7 351.5Q1129.6 350.0 1129.6 348.5Q1129.6 347.0 1129.8 345.6Q1129.9 344.2 1130.3 342.9Q1130.6 341.6 1131.0 340.4Q1131.4 339.1 1131.8 337.8Q1132.2 336.4 1132.7 335.0Q1133.3 333.6 1134.1 332.5Q1135.0 331.5 1136.0 331.3Q1137.0 331.1 1138.0 331.7Q1138.9 332.3 1139.7 333.3Q1140.5 334.3 1141.2 335.4Q1141.8 336.4 1142.4 337.5Q1143.0 338.6 1143.5 339.8Q1144.0 341.1 1144.3 342.5Q1144.5 344.0 1144.6 345.5Z" fill="#050a60"/>
<path d="M723.8 481.2Q723.4 485.0 722.9 488.4Q722.4 491.9 721.7 495.1Q721.1 498.3 720.2 501.3Q719.2 504.3 717.9 506.9Q716.6 509.4 715.1 511.6Q713.5 513.7 711.8 515.7Q710.1 517.6 708.0 519.1Q706.0 520.6 703.8 520.8Q701.5 521.0 699.5 519.3Q697.4 517.7 695.9 514.6Q694.5 511.5 693.5 508.1Q692.6 504.6 691.8 501.4Q691.1 498.2 690.3 495.0Q689.5 491.9 689.0 488.4Q688.5 485.0 688.5 481.4Q688.6 477.7 689.2 474.2Q689.8 470.7 690.9 467.6Q691.9 464.4 693.2 461.6Q694.6 458.7 696.3 456.5Q697.9 454.3 699.9 453.3Q701.9 452.3 704.0 452.5Q706.0 452.7 707.9 453.5Q709.8 454.3 711.7 455.2Q713.6 456.0 715.6 457.2Q717.6 458.4 719.4 460.6Q721.2 462.8 722.4 466.1Q723.5 469.5 723.8 473.5Q724.1 477.4 723.8 481.2Z" fill="#0d1af7"/><circle cx="711.0" cy="480.0" r="3.0" fill="#000" fill-opacity="0.70"/><circle cx="704.0" cy="497.0" r="3.0" fill="#000" fill-opacity="0.40"/>
<path d="M810.7 529.9Q810.9 533.4 809.3 536.5Q807.6 539.6 804.9 541.9Q802.1 544.1 799.2 545.8Q796.3 547.4 793.6 549.0Q791.0 550.6 788.2 552.2Q785.4 553.8 782.1 554.7Q778.9 555.7 775.4 555.4Q771.9 555.1 768.7 553.9Q765.5 552.6 762.6 551.0Q759.7 549.3 756.9 547.3Q754.2 545.4 752.0 542.9Q749.7 540.5 748.4 537.5Q747.1 534.5 746.9 531.4Q746.6 528.3 746.7 525.2Q746.9 522.1 747.2 519.0Q747.5 515.8 748.4 512.5Q749.3 509.2 751.5 506.4Q753.7 503.7 757.1 502.2Q760.5 500.7 764.3 500.6Q768.0 500.5 771.5 501.1Q774.9 501.6 778.0 502.1Q781.2 502.6 784.3 503.2Q787.4 503.7 790.5 504.9Q793.5 506.0 796.2 507.9Q798.9 509.8 801.2 512.2Q803.5 514.5 805.5 517.3Q807.6 520.0 809.1 523.2Q810.6 526.4 810.7 529.9Z" fill="#0d1af7"/><circle cx="778.8" cy="533.4" r="4.0" fill="#000" fill-opacity="0.40"/><circle cx="768.8" cy="523.4" r="3.0" fill="#000" fill-opacity="0.30"/>
</g></g>
<g clip-path="url(#cp3)"><g filter="url(#cellsD)"><rect x="1195.0" y="119.0" width="440.5" height="440.0" fill="#000" fill-opacity="0.01"/>
<path d="M1397.7 345.8Q1398.4 349.6 1398.7 353.3Q1399.1 357.1 1398.7 360.6Q1398.3 364.1 1397.2 366.8Q1396.1 369.5 1394.8 371.4Q1393.5 373.3 1392.3 375.2Q1391.1 377.1 1389.9 379.3Q1388.8 381.6 1387.2 383.5Q1385.7 385.5 1383.7 386.0Q1381.8 386.6 1379.7 385.5Q1377.6 384.3 1375.7 382.2Q1373.8 380.0 1372.1 377.5Q1370.4 374.9 1368.8 372.0Q1367.3 369.0 1366.1 365.5Q1365.0 361.9 1364.6 358.2Q1364.2 354.4 1364.3 350.8Q1364.4 347.3 1364.6 344.0Q1364.9 340.7 1365.2 337.4Q1365.5 334.0 1366.1 330.8Q1366.7 327.6 1368.0 325.3Q1369.3 323.0 1371.1 322.1Q1372.9 321.2 1374.8 321.2Q1376.7 321.2 1378.5 321.4Q1380.3 321.5 1382.2 321.6Q1384.1 321.7 1386.2 322.7Q1388.2 323.6 1390.1 325.9Q1392.0 328.2 1393.5 331.5Q1394.9 334.8 1395.9 338.4Q1396.9 342.1 1397.7 345.8Z" fill="#060c71"/><circle cx="1381.0" cy="348.0" r="3.5" fill="#000" fill-opacity="0.70"/><circle cx="1377.0" cy="360.0" r="3.0" fill="#000" fill-opacity="0.60"/><circle cx="1385.0" cy="368.0" r="3.0" fill="#000" fill-opacity="0.50"/><circle cx="1379.0" cy="336.0" r="3.0" fill="#000" fill-opacity="0.50"/>
<path d="M1380.8 339.9Q1381.0 343.0 1380.6 345.8Q1380.2 348.5 1379.8 350.9Q1379.4 353.3 1379.2 355.8Q1378.9 358.2 1378.6 360.8Q1378.2 363.4 1377.3 365.5Q1376.4 367.6 1375.0 368.7Q1373.6 369.8 1372.1 370.0Q1370.5 370.2 1369.0 370.2Q1367.4 370.2 1365.8 370.0Q1364.2 369.7 1362.5 368.8Q1360.8 367.8 1359.3 365.7Q1357.9 363.7 1356.8 361.0Q1355.8 358.3 1355.0 355.5Q1354.3 352.6 1353.6 349.8Q1353.0 347.0 1352.6 344.0Q1352.2 341.0 1352.4 338.2Q1352.6 335.3 1353.5 333.2Q1354.4 331.0 1355.6 329.6Q1356.8 328.1 1357.8 326.8Q1358.9 325.5 1359.9 323.9Q1360.9 322.3 1362.1 320.8Q1363.4 319.3 1365.0 318.7Q1366.5 318.1 1368.2 318.8Q1369.9 319.5 1371.5 320.9Q1373.2 322.4 1374.7 324.3Q1376.2 326.2 1377.5 328.6Q1378.9 330.9 1379.8 333.9Q1380.7 336.8 1380.8 339.9Z" fill="#02042b"/>
</g><g filter="url(#cells)"><rect x="1195.0" y="119.0" width="440.5" height="440.0" fill="#000" fill-opacity="0.01"/>
<path d="M1339.9 130.7Q1340.0 131.0 1340.0 131.4Q1340.1 131.7 1340.0 132.1Q1340.0 132.5 1339.9 132.8Q1339.8 133.1 1339.5 133.3Q1339.3 133.5 1339.1 133.6Q1338.9 133.7 1338.6 133.7Q1338.4 133.7 1338.2 133.8Q1338.0 133.8 1337.8 133.8Q1337.6 133.8 1337.4 133.8Q1337.1 133.7 1336.9 133.5Q1336.8 133.3 1336.6 133.1Q1336.5 132.8 1336.3 132.6Q1336.2 132.3 1336.1 132.0Q1336.0 131.7 1336.0 131.3Q1336.0 131.0 1336.1 130.7Q1336.1 130.3 1336.2 130.1Q1336.3 129.8 1336.4 129.5Q1336.5 129.2 1336.6 128.9Q1336.7 128.6 1336.9 128.3Q1337.0 128.0 1337.3 127.9Q1337.5 127.7 1337.8 127.7Q1338.0 127.8 1338.2 127.9Q1338.4 128.1 1338.6 128.3Q1338.8 128.5 1339.0 128.7Q1339.1 128.9 1339.3 129.1Q1339.4 129.3 1339.5 129.6Q1339.7 129.8 1339.7 130.1Q1339.8 130.4 1339.9 130.7Z" fill="#060b6b"/>
<path d="M1351.9 258.4Q1351.9 258.6 1351.9 258.8Q1351.9 259.0 1351.8 259.3Q1351.7 259.5 1351.5 259.7Q1351.4 259.9 1351.1 260.0Q1350.9 260.2 1350.7 260.4Q1350.4 260.5 1350.1 260.6Q1349.7 260.7 1349.4 260.7Q1349.0 260.7 1348.7 260.6Q1348.3 260.5 1348.1 260.4Q1347.8 260.2 1347.6 260.1Q1347.4 259.9 1347.2 259.8Q1346.9 259.7 1346.7 259.6Q1346.5 259.4 1346.3 259.2Q1346.1 259.0 1346.0 258.8Q1345.9 258.6 1345.9 258.4Q1345.9 258.1 1345.9 257.9Q1346.0 257.6 1346.2 257.4Q1346.4 257.2 1346.7 257.1Q1347.0 256.9 1347.4 256.9Q1347.7 256.8 1348.0 256.8Q1348.4 256.8 1348.7 256.8Q1349.0 256.8 1349.3 256.8Q1349.6 256.8 1350.0 256.8Q1350.3 256.8 1350.6 256.9Q1350.9 257.0 1351.2 257.2Q1351.4 257.3 1351.5 257.5Q1351.7 257.7 1351.8 258.0Q1351.9 258.2 1351.9 258.4Z" fill="#050a5e"/>
<path d="M1467.0 258.5Q1466.8 259.1 1466.6 259.6Q1466.4 260.1 1466.1 260.6Q1465.9 261.2 1465.6 261.6Q1465.3 262.0 1465.0 262.4Q1464.7 262.7 1464.3 262.9Q1464.0 263.1 1463.6 263.2Q1463.3 263.4 1462.9 263.5Q1462.6 263.6 1462.2 263.7Q1461.8 263.7 1461.5 263.5Q1461.1 263.3 1460.9 262.9Q1460.7 262.4 1460.7 261.8Q1460.7 261.2 1460.7 260.5Q1460.8 259.9 1460.9 259.3Q1461.0 258.7 1461.1 258.1Q1461.2 257.6 1461.4 257.0Q1461.6 256.5 1461.9 256.0Q1462.2 255.5 1462.5 255.1Q1462.7 254.7 1463.0 254.3Q1463.3 253.9 1463.7 253.5Q1464.0 253.1 1464.4 252.8Q1464.8 252.6 1465.2 252.6Q1465.5 252.7 1465.8 252.9Q1466.1 253.2 1466.3 253.5Q1466.6 253.8 1466.8 254.2Q1467.0 254.6 1467.1 255.0Q1467.3 255.5 1467.3 256.0Q1467.4 256.6 1467.3 257.2Q1467.2 257.9 1467.0 258.5Z" fill="#040956"/>
<path d="M1465.9 283.4Q1466.0 283.7 1466.1 284.1Q1466.1 284.4 1466.1 284.8Q1466.0 285.1 1465.8 285.4Q1465.5 285.7 1465.2 285.9Q1464.9 286.1 1464.6 286.2Q1464.3 286.3 1463.9 286.4Q1463.6 286.5 1463.3 286.5Q1463.0 286.5 1462.7 286.5Q1462.4 286.4 1462.1 286.3Q1461.8 286.2 1461.5 286.1Q1461.2 285.9 1460.9 285.8Q1460.6 285.6 1460.3 285.4Q1460.0 285.1 1459.9 284.8Q1459.7 284.4 1459.7 284.1Q1459.8 283.7 1459.9 283.4Q1460.1 283.0 1460.3 282.8Q1460.5 282.5 1460.6 282.2Q1460.8 281.9 1461.0 281.7Q1461.2 281.4 1461.4 281.2Q1461.7 281.0 1462.0 280.9Q1462.3 280.8 1462.7 280.8Q1463.0 280.7 1463.3 280.7Q1463.7 280.8 1464.0 280.8Q1464.3 280.9 1464.6 281.1Q1464.9 281.3 1465.1 281.6Q1465.3 281.9 1465.4 282.2Q1465.5 282.5 1465.6 282.8Q1465.7 283.1 1465.9 283.4Z" fill="#040956"/>
<path d="M1552.4 309.7Q1552.4 313.0 1551.2 316.0Q1550.0 319.0 1548.2 321.6Q1546.4 324.1 1544.6 326.4Q1542.8 328.7 1540.9 331.0Q1539.0 333.3 1536.6 335.4Q1534.2 337.4 1531.2 338.5Q1528.1 339.6 1524.9 339.6Q1521.6 339.6 1518.5 338.8Q1515.5 338.0 1512.6 337.0Q1509.7 336.0 1506.8 334.8Q1503.9 333.6 1501.3 331.8Q1498.7 330.0 1496.7 327.6Q1494.7 325.1 1493.4 322.2Q1492.2 319.2 1491.6 316.1Q1491.0 313.0 1491.0 309.8Q1491.0 306.5 1492.1 303.4Q1493.2 300.2 1495.5 297.8Q1497.8 295.4 1501.0 294.0Q1504.1 292.6 1507.3 292.0Q1510.4 291.4 1513.2 290.8Q1516.0 290.3 1518.8 289.5Q1521.6 288.7 1524.7 288.2Q1527.8 287.7 1531.1 288.0Q1534.4 288.3 1537.4 289.7Q1540.4 291.0 1543.0 293.1Q1545.6 295.2 1547.7 297.8Q1549.8 300.4 1551.1 303.4Q1552.3 306.5 1552.4 309.7Z" fill="#0d1af7"/><circle cx="1511.6" cy="303.0" r="3.0" fill="#000" fill-opacity="0.45"/><circle cx="1524.6" cy="333.0" r="3.0" fill="#000" fill-opacity="0.60"/><circle cx="1529.6" cy="307.0" r="3.0" fill="#000" fill-opacity="0.30"/>
<path d="M1540.0 333.3Q1539.7 335.0 1539.4 336.6Q1539.1 338.1 1538.6 339.7Q1538.0 341.2 1537.1 342.5Q1536.2 343.9 1534.8 345.0Q1533.5 346.1 1532.0 347.0Q1530.5 347.9 1528.9 348.7Q1527.3 349.6 1525.4 350.2Q1523.5 350.8 1521.5 350.8Q1519.4 350.8 1517.6 350.0Q1515.8 349.1 1514.4 347.9Q1513.0 346.6 1511.8 345.3Q1510.7 344.0 1509.5 342.7Q1508.4 341.4 1507.4 339.9Q1506.4 338.4 1506.0 336.7Q1505.6 335.0 1506.1 333.3Q1506.5 331.6 1507.5 330.1Q1508.5 328.6 1509.6 327.3Q1510.8 326.0 1512.0 324.9Q1513.3 323.7 1514.8 322.8Q1516.3 321.9 1518.1 321.4Q1519.9 321.0 1521.7 320.9Q1523.5 320.9 1525.3 320.9Q1527.1 321.0 1529.1 321.1Q1531.0 321.2 1533.1 321.6Q1535.1 322.1 1536.8 323.3Q1538.5 324.5 1539.3 326.2Q1540.1 327.9 1540.2 329.8Q1540.2 331.6 1540.0 333.3Z" fill="#0c19ec"/><circle cx="1523.5" cy="333.0" r="3.0" fill="#000" fill-opacity="0.50"/>
<path d="M1617.3 322.6Q1617.8 325.6 1617.2 328.6Q1616.6 331.6 1614.4 333.8Q1612.2 336.0 1608.7 337.0Q1605.3 337.9 1601.7 338.1Q1598.1 338.2 1594.7 338.2Q1591.3 338.3 1587.8 338.3Q1584.3 338.3 1580.6 337.6Q1576.9 337.0 1573.5 335.2Q1570.1 333.5 1567.5 331.0Q1564.8 328.5 1562.8 325.9Q1560.8 323.2 1559.1 320.4Q1557.3 317.7 1556.2 314.8Q1555.1 311.9 1555.1 309.1Q1555.2 306.2 1556.5 303.8Q1557.7 301.3 1559.4 299.3Q1561.1 297.2 1562.7 295.0Q1564.3 292.9 1566.1 290.5Q1567.9 288.1 1570.7 286.2Q1573.6 284.3 1577.4 283.9Q1581.2 283.5 1585.1 284.7Q1589.1 285.9 1592.5 287.8Q1596.0 289.7 1599.0 291.8Q1602.0 293.8 1604.7 295.9Q1607.5 298.1 1609.6 300.6Q1611.8 303.1 1613.1 305.8Q1614.4 308.5 1615.0 311.3Q1615.7 314.0 1616.3 316.8Q1616.9 319.5 1617.3 322.6Z" fill="#0912b1"/><circle cx="1580.6" cy="309.0" r="3.0" fill="#000" fill-opacity="0.40"/><circle cx="1596.6" cy="317.0" r="3.5" fill="#000" fill-opacity="0.50"/><circle cx="1572.6" cy="319.0" r="3.0" fill="#000" fill-opacity="0.40"/><circle cx="1602.6" cy="325.0" r="3.0" fill="#000" fill-opacity="0.40"/>
<path d="M1239.4 427.3Q1239.5 428.0 1239.4 428.6Q1239.3 429.3 1239.0 429.8Q1238.7 430.4 1238.3 430.8Q1237.8 431.3 1237.3 431.5Q1236.7 431.8 1236.3 432.1Q1235.8 432.3 1235.3 432.6Q1234.8 432.9 1234.3 433.2Q1233.7 433.5 1233.0 433.6Q1232.4 433.7 1231.8 433.5Q1231.1 433.4 1230.6 432.9Q1230.1 432.5 1229.7 432.0Q1229.3 431.5 1229.0 431.0Q1228.6 430.4 1228.4 429.8Q1228.2 429.3 1228.2 428.6Q1228.2 428.0 1228.4 427.4Q1228.5 426.8 1228.7 426.3Q1229.0 425.7 1229.2 425.2Q1229.5 424.7 1229.9 424.1Q1230.2 423.6 1230.7 423.3Q1231.2 422.9 1231.9 422.8Q1232.5 422.7 1233.1 422.7Q1233.7 422.8 1234.3 422.9Q1234.8 423.1 1235.4 423.2Q1236.0 423.3 1236.6 423.4Q1237.2 423.6 1237.7 424.0Q1238.3 424.3 1238.7 424.9Q1239.0 425.4 1239.2 426.1Q1239.4 426.7 1239.4 427.3Z" fill="#080f93"/>
<path d="M1343.6 437.3Q1343.7 437.5 1343.6 437.7Q1343.5 437.9 1343.4 438.0Q1343.3 438.2 1343.1 438.3Q1343.0 438.5 1342.9 438.6Q1342.7 438.7 1342.6 438.9Q1342.4 439.0 1342.2 439.1Q1342.0 439.1 1341.7 439.1Q1341.5 439.1 1341.3 439.1Q1341.1 439.0 1340.9 438.9Q1340.7 438.9 1340.5 438.8Q1340.3 438.7 1340.1 438.6Q1340.0 438.5 1339.9 438.3Q1339.8 438.2 1339.7 438.0Q1339.7 437.8 1339.6 437.7Q1339.6 437.5 1339.5 437.3Q1339.5 437.1 1339.5 436.9Q1339.5 436.7 1339.6 436.6Q1339.7 436.4 1339.9 436.3Q1340.1 436.1 1340.4 436.1Q1340.6 436.1 1340.9 436.0Q1341.1 436.0 1341.3 436.0Q1341.5 436.0 1341.7 436.0Q1341.9 436.0 1342.1 436.1Q1342.3 436.1 1342.5 436.2Q1342.7 436.3 1342.8 436.4Q1343.0 436.6 1343.1 436.7Q1343.3 436.8 1343.4 437.0Q1343.6 437.1 1343.6 437.3Z" fill="#040850"/>
<path d="M1371.7 471.3Q1371.7 471.5 1371.7 471.7Q1371.8 471.9 1371.8 472.1Q1371.7 472.3 1371.6 472.5Q1371.5 472.7 1371.4 472.9Q1371.2 473.0 1371.0 473.1Q1370.8 473.2 1370.6 473.3Q1370.4 473.3 1370.2 473.3Q1370.0 473.3 1369.8 473.2Q1369.6 473.1 1369.5 473.0Q1369.3 472.9 1369.2 472.8Q1369.0 472.7 1368.9 472.6Q1368.7 472.5 1368.5 472.4Q1368.3 472.3 1368.2 472.1Q1368.1 471.9 1368.1 471.7Q1368.0 471.5 1368.1 471.3Q1368.1 471.1 1368.2 470.9Q1368.3 470.7 1368.5 470.5Q1368.6 470.4 1368.7 470.2Q1368.9 470.1 1369.1 470.0Q1369.2 469.9 1369.4 469.9Q1369.6 469.8 1369.8 469.8Q1370.0 469.8 1370.2 469.8Q1370.4 469.8 1370.6 469.8Q1370.8 469.8 1371.0 469.9Q1371.2 470.0 1371.3 470.2Q1371.4 470.4 1371.5 470.6Q1371.5 470.8 1371.6 471.0Q1371.6 471.1 1371.7 471.3Z" fill="#040850"/>
<path d="M1629.2 420.4Q1629.5 423.2 1629.9 426.1Q1630.3 429.0 1630.2 432.2Q1630.1 435.4 1628.8 438.5Q1627.5 441.6 1624.9 443.9Q1622.3 446.1 1619.0 447.5Q1615.7 448.9 1612.3 449.8Q1609.0 450.7 1605.5 451.4Q1602.0 452.0 1598.4 452.0Q1594.7 452.0 1591.3 450.8Q1587.9 449.7 1585.1 447.5Q1582.4 445.4 1580.3 442.9Q1578.2 440.4 1576.4 437.7Q1574.7 435.1 1573.4 432.2Q1572.1 429.4 1571.9 426.3Q1571.6 423.2 1572.6 420.3Q1573.5 417.3 1575.2 414.8Q1576.8 412.2 1578.4 409.8Q1579.9 407.3 1581.5 404.6Q1583.2 401.9 1585.5 399.2Q1587.8 396.5 1591.1 394.7Q1594.4 393.0 1598.2 392.6Q1602.0 392.3 1605.7 393.2Q1609.4 394.0 1612.7 395.5Q1616.0 397.0 1618.9 398.9Q1621.8 400.8 1623.9 403.3Q1626.1 405.8 1627.2 408.8Q1628.4 411.7 1628.7 414.7Q1629.0 417.6 1629.2 420.4Z" fill="#0a14c1"/><circle cx="1592.0" cy="415.2" r="4.3" fill="#000" fill-opacity="0.80"/><circle cx="1604.0" cy="433.2" r="3.5" fill="#000" fill-opacity="0.70"/><circle cx="1582.0" cy="427.2" r="3.0" fill="#000" fill-opacity="0.60"/><circle cx="1612.0" cy="443.2" r="3.0" fill="#000" fill-opacity="0.50"/><circle cx="1624.0" cy="419.2" r="3.0" fill="#000" fill-opacity="0.50"/>
<path d="M1494.3 431.1Q1496.7 433.9 1498.1 437.4Q1499.5 440.8 1499.6 444.4Q1499.7 448.1 1499.1 451.4Q1498.5 454.7 1497.7 457.8Q1497.0 460.9 1496.0 464.1Q1495.1 467.3 1493.3 470.1Q1491.6 472.8 1489.0 474.6Q1486.4 476.3 1483.4 477.0Q1480.3 477.7 1477.2 477.9Q1474.0 478.2 1470.7 478.0Q1467.4 477.8 1464.0 476.6Q1460.7 475.3 1457.9 472.6Q1455.1 469.9 1453.5 466.3Q1451.9 462.6 1451.1 459.1Q1450.3 455.5 1449.5 452.4Q1448.6 449.3 1447.5 446.1Q1446.3 442.9 1445.5 439.4Q1444.7 435.9 1444.9 432.3Q1445.2 428.7 1446.6 425.7Q1448.0 422.7 1450.1 420.2Q1452.1 417.6 1454.6 415.5Q1457.1 413.4 1460.1 412.1Q1463.1 410.8 1466.5 411.0Q1469.9 411.2 1473.1 413.0Q1476.4 414.7 1479.1 417.2Q1481.8 419.6 1484.2 421.8Q1486.7 424.1 1489.3 426.2Q1491.9 428.4 1494.3 431.1Z" fill="#0b15cc"/><circle cx="1462.0" cy="449.4" r="5.2" fill="#000" fill-opacity="0.80"/><circle cx="1486.0" cy="455.4" r="3.3" fill="#000" fill-opacity="0.70"/><circle cx="1472.0" cy="431.4" r="3.0" fill="#000" fill-opacity="0.40"/>
<path d="M1586.7 461.0Q1587.9 464.4 1588.1 468.0Q1588.3 471.6 1587.8 474.9Q1587.4 478.3 1586.7 481.4Q1585.9 484.5 1584.8 487.5Q1583.6 490.4 1581.9 492.9Q1580.2 495.3 1577.9 497.2Q1575.7 499.0 1573.2 500.3Q1570.7 501.7 1567.9 502.4Q1565.1 503.2 1562.0 503.1Q1559.0 503.0 1556.2 501.5Q1553.3 500.0 1551.1 497.3Q1548.8 494.6 1547.3 491.5Q1545.8 488.4 1544.6 485.5Q1543.4 482.6 1542.0 479.8Q1540.6 477.1 1539.2 474.0Q1537.9 470.9 1537.1 467.3Q1536.3 463.8 1536.6 460.2Q1536.8 456.6 1538.1 453.4Q1539.4 450.2 1541.4 447.6Q1543.4 445.1 1545.9 443.3Q1548.4 441.6 1551.4 441.1Q1554.3 440.5 1557.2 441.1Q1560.1 441.7 1562.8 442.9Q1565.4 444.2 1567.9 445.4Q1570.4 446.6 1573.0 447.8Q1575.5 448.9 1578.2 450.6Q1580.9 452.2 1583.2 454.9Q1585.4 457.5 1586.7 461.0Z" fill="#0b17dc"/><circle cx="1552.5" cy="465.2" r="4.4" fill="#000" fill-opacity="0.90"/><circle cx="1562.5" cy="483.2" r="4.3" fill="#000" fill-opacity="0.90"/><circle cx="1572.5" cy="467.2" r="3.0" fill="#000" fill-opacity="0.40"/>
<path d="M1500.1 527.7Q1500.1 528.5 1500.0 529.3Q1500.0 530.1 1499.7 530.8Q1499.4 531.5 1498.9 532.1Q1498.5 532.6 1498.0 533.1Q1497.5 533.6 1497.0 534.1Q1496.5 534.6 1495.9 535.0Q1495.4 535.4 1494.7 535.6Q1494.0 535.7 1493.3 535.4Q1492.7 535.2 1492.1 534.8Q1491.6 534.3 1491.1 533.9Q1490.6 533.5 1490.0 533.1Q1489.4 532.8 1488.8 532.2Q1488.3 531.7 1487.9 531.0Q1487.5 530.2 1487.4 529.4Q1487.4 528.5 1487.6 527.7Q1487.8 526.8 1488.1 526.1Q1488.4 525.3 1488.8 524.7Q1489.2 524.1 1489.8 523.6Q1490.3 523.1 1491.0 523.0Q1491.6 522.8 1492.3 522.7Q1492.9 522.7 1493.4 522.6Q1494.0 522.6 1494.6 522.3Q1495.2 522.1 1496.0 522.0Q1496.7 521.9 1497.4 522.1Q1498.2 522.4 1498.7 523.0Q1499.2 523.6 1499.5 524.5Q1499.8 525.3 1499.9 526.1Q1500.0 526.9 1500.1 527.7Z" fill="#0a14bc"/>
<path d="M1506.9 534.1Q1506.9 534.6 1506.7 535.0Q1506.4 535.4 1505.9 535.6Q1505.4 535.9 1504.6 535.9Q1503.8 536.0 1502.9 535.9Q1502.0 535.8 1500.9 535.7Q1499.9 535.5 1498.8 535.2Q1497.6 534.9 1496.4 534.3Q1495.2 533.8 1494.2 533.1Q1493.2 532.5 1492.4 531.8Q1491.6 531.1 1491.0 530.5Q1490.4 529.9 1489.7 529.4Q1489.0 528.8 1488.3 528.1Q1487.6 527.5 1487.2 526.8Q1486.7 526.2 1486.6 525.6Q1486.5 525.1 1486.8 524.7Q1487.1 524.3 1487.6 524.1Q1488.2 523.8 1488.9 523.7Q1489.7 523.6 1490.8 523.8Q1491.8 523.9 1493.0 524.3Q1494.2 524.7 1495.3 525.2Q1496.5 525.7 1497.5 526.2Q1498.5 526.7 1499.6 527.2Q1500.6 527.7 1501.7 528.2Q1502.8 528.8 1503.8 529.4Q1504.8 530.1 1505.4 530.7Q1506.1 531.4 1506.4 532.0Q1506.7 532.6 1506.8 533.1Q1506.9 533.6 1506.9 534.1Z" fill="#080f93"/>
<path d="M1315.6 192.0Q1314.7 189.4 1321.0 186.4Q1327.3 183.3 1333.6 180.9Q1340.0 178.6 1351.7 178.4Q1363.4 178.2 1371.6 181.4Q1379.7 184.6 1383.3 189.5Q1386.9 194.5 1391.0 196.5Q1395.1 198.5 1397.8 203.7Q1400.5 208.9 1397.8 213.9Q1395.1 218.9 1390.5 217.5Q1386.0 216.2 1382.0 218.4Q1377.9 220.7 1372.9 224.3Q1368.0 227.9 1361.6 230.2Q1355.3 232.4 1350.3 230.2Q1345.4 227.9 1342.7 222.5Q1340.0 217.1 1337.2 211.2Q1334.5 205.3 1330.0 201.9Q1325.5 198.5 1321.0 196.5Q1316.5 194.5 1315.6 192.0Z" fill="#0a15c6"/><circle cx="1358.9" cy="198.5" r="4.2" fill="#000" fill-opacity="0.95"/><circle cx="1349.0" cy="216.2" r="3.0" fill="#000" fill-opacity="0.50"/><circle cx="1372.5" cy="208.9" r="2.5" fill="#000" fill-opacity="0.00"/><path d="M1451.5 120.5Q1451.0 117.0 1461.5 117.0Q1472.0 117.0 1471.5 120.0Q1471.0 123.0 1468.0 126.5Q1465.0 130.0 1463.0 132.0Q1461.0 134.0 1459.0 132.0Q1457.0 130.0 1454.5 127.0Q1452.0 124.0 1451.5 120.5Z" fill="#0e1bff"/><ellipse cx="1374" cy="203" rx="12" ry="14" fill="#0d1af7"/><ellipse cx="1358.5" cy="197.5" rx="5" ry="2.6" fill="#000" fill-opacity=".9"/>
</g></g>
<text class="im" x="274.2" y="160" textLength="160.5" lengthAdjust="spacingAndGlyphs">Untreated</text>
<text class="im" y="160"><tspan x="741.8" textLength="93" lengthAdjust="spacingAndGlyphs">3-COF</tspan> <tspan x="844" textLength="119.5" lengthAdjust="spacingAndGlyphs">Treated</tspan></text>
<text class="im" y="161.9"><tspan x="1234" textLength="93" lengthAdjust="spacingAndGlyphs">2-COF</tspan> <tspan x="1336.4" textLength="119.5" lengthAdjust="spacingAndGlyphs">Treated</tspan></text>
<g filter="url(#soft)" opacity="0.72"><text class="sb" x="545" y="541" style="font-size:20px;stroke:#a9c4ba;stroke-width:0.7px">0</text><text class="sb" x="581" y="541" style="font-size:20px;stroke:#a9c4ba;stroke-width:0.7px">µm</text><text class="sb" x="623.5" y="541" style="font-size:20px;stroke:#a9c4ba;stroke-width:0.7px">10</text></g>
<g fill="#5f9c8c" opacity="0.55"><rect x="543.0" y="552" width="2" height="2"/><rect x="564.0" y="552" width="2" height="2"/><rect x="583.0" y="552" width="2" height="2"/><rect x="605.0" y="552" width="2" height="2"/><rect x="626.0" y="552" width="2" height="2"/><rect x="645.0" y="552" width="2" height="2"/></g>
<g filter="url(#soft)"><g opacity="0.62"><text class="sb" x="1045.7" y="548">0</text><text class="sb" x="1080.7" y="548">µm</text><text class="sb" x="1120.7" y="548">50</text></g>
<rect x="1043.2" y="553.9" width="95.5" height="1.8" fill="#9aa5dd"/>
<rect x="1060.7" y="552.3" width="1.8" height="2.4" fill="#d5dcf2"/><rect x="1080.2" y="552.3" width="1.8" height="2.4" fill="#d5dcf2"/><rect x="1100.2" y="552.3" width="1.8" height="2.4" fill="#d5dcf2"/><rect x="1119.2" y="552.3" width="1.8" height="2.4" fill="#d5dcf2"/><rect x="1137.2" y="552.3" width="1.8" height="2.4" fill="#d5dcf2"/></g>
<g filter="url(#soft)"><g opacity="0.62"><text class="sb" x="1533.0" y="548">0</text><text class="sb" x="1568.0" y="548">µm</text><text class="sb" x="1608.0" y="548">50</text></g>
<rect x="1530.5" y="553.9" width="95.5" height="1.8" fill="#9aa5dd"/>
<rect x="1548.0" y="552.3" width="1.8" height="2.4" fill="#d5dcf2"/><rect x="1567.5" y="552.3" width="1.8" height="2.4" fill="#d5dcf2"/><rect x="1587.5" y="552.3" width="1.8" height="2.4" fill="#d5dcf2"/><rect x="1606.5" y="552.3" width="1.8" height="2.4" fill="#d5dcf2"/><rect x="1624.5" y="552.3" width="1.8" height="2.4" fill="#d5dcf2"/></g>
</g>
<g id="chart-b">
<text class="pl" x="39.5" y="648.4" textLength="84.5" lengthAdjust="spacingAndGlyphs">(b)</text>
<rect x="250.3" y="762.6" width="55.5" height="387.7" fill="#0433ff" stroke="#18242e" stroke-opacity="0.75" stroke-width="1.3"/>
<rect x="305.8" y="749.7" width="57.0" height="400.6" fill="#00f900" stroke="#18242e" stroke-opacity="0.75" stroke-width="1.3"/>
<rect x="473.7" y="1046.9" width="56.3" height="103.4" fill="#0433ff" stroke="#18242e" stroke-opacity="0.75" stroke-width="1.3"/>
<rect x="697.6" y="959.9" width="55.8" height="190.4" fill="#0433ff" stroke="#18242e" stroke-opacity="0.75" stroke-width="1.3"/>
<rect x="753.4" y="996.6" width="55.8" height="153.7" fill="#00f900" stroke="#18242e" stroke-opacity="0.75" stroke-width="1.3"/>
<path d="M278.1 757.6V767.7M272.8 757.6h10.5M272.8 767.7h10.5" stroke="#2e383c" stroke-width="1.25" fill="none"/>
<path d="M334.3 736.3V763.1M329.1 736.3h10.5M329.1 763.1h10.5" stroke="#2e383c" stroke-width="1.25" fill="none"/>
<path d="M501.9 1032.9V1061.0M496.6 1032.9h10.5M496.6 1061.0h10.5" stroke="#2e383c" stroke-width="1.25" fill="none"/>
<path d="M725.5 946.0V973.7M720.2 946.0h10.5M720.2 973.7h10.5" stroke="#2e383c" stroke-width="1.25" fill="none"/>
<path d="M781.3 987.8V1005.4M776.0 987.8h10.5M776.0 1005.4h10.5" stroke="#2e383c" stroke-width="1.25" fill="none"/>
<rect x="194.8" y="651.5" width="670.2" height="498.8" fill="none" stroke="#2b3a3d" stroke-width="2.8"/>
<path d="M194.8 1150.3h11.5M194.8 1105.0h7M194.8 1059.6h11.5M194.8 1014.3h7M194.8 968.9h11.5M194.8 923.6h7M194.8 878.3h11.5M194.8 832.9h7M194.8 787.6h11.5M194.8 742.2h7M194.8 696.9h11.5" stroke="#2b3a3d" stroke-width="2.6" fill="none"/>
<path d="M194.8 1150.3v6M306.5 1150.3v10.3M418.2 1150.3v6M529.9 1150.3v10.3M641.6 1150.3v6M753.3 1150.3v10.3M865.0 1150.3v6" stroke="#2b3a3d" stroke-width="2.6" fill="none"/>
<text class="tk" text-anchor="end" x="183.5" y="1159.9">0.0</text>
<text class="tk" text-anchor="end" x="183.5" y="1069.2">0.2</text>
<text class="tk" text-anchor="end" x="183.5" y="978.5">0.4</text>
<text class="tk" text-anchor="end" x="183.5" y="887.9">0.6</text>
<text class="tk" text-anchor="end" x="183.5" y="797.2">0.8</text>
<text class="tk" text-anchor="end" x="183.5" y="706.5">1.0</text>
<text class="tk" text-anchor="middle" x="304" y="1203.7">Bare COF</text>
<text class="tk" text-anchor="middle" x="509.2" y="1202.5">5-FU</text>
<text class="tk" text-anchor="middle" x="761" y="1203.5">5-FU@PI-COF</text>
<text class="ax" text-anchor="middle" transform="translate(125.6 882.5) rotate(-90)" style="font-size:42.1px">Cell Viability (100%)</text>
<rect x="542.6" y="676.6" width="68.4" height="32.4" fill="#0433ff" stroke="#2c3a46" stroke-width="1.3"/>
<rect x="542.6" y="715" width="68.4" height="32.8" fill="#00f900" stroke="#2c3a46" stroke-width="1.3"/>
<text class="lg" x="619" y="702.4">PI-3-COF</text>
<text class="lg" x="619" y="741.1">PI-2-COF</text>
</g>
<g id="chart-c">
<text class="pl" x="884" y="649.3" textLength="81" lengthAdjust="spacingAndGlyphs">(c)</text>
<rect x="1062.9" y="1101.5" width="18.4" height="18.4" fill="#0433ff"/>
<rect x="1174.4" y="905.8" width="18.4" height="18.4" fill="#0433ff"/>
<rect x="1285.9" y="810.7" width="18.4" height="18.4" fill="#0433ff"/>
<rect x="1397.4" y="756.4" width="18.4" height="18.4" fill="#0433ff"/>
<rect x="1508.9" y="701.0" width="18.4" height="18.4" fill="#0433ff"/>
<rect x="1620.4" y="686.0" width="18.4" height="18.4" fill="#0433ff"/>
<circle cx="1072.1" cy="1110.7" r="10.2" fill="#ff0a14"/>
<circle cx="1183.6" cy="883.8" r="10.2" fill="#ff0a14"/>
<circle cx="1295.1" cy="769.2" r="10.2" fill="#ff0a14"/>
<circle cx="1406.6" cy="717.0" r="10.2" fill="#ff0a14"/>
<circle cx="1518.1" cy="701.8" r="10.2" fill="#ff0a14"/>
<circle cx="1629.6" cy="695.2" r="10.2" fill="#ff0a14"/>
<path d="M1072.1 1110.7L1077.7 1094.5L1083.2 1079.0L1088.8 1064.0L1094.4 1049.6L1100.0 1035.8L1105.5 1022.4L1111.1 1009.6L1116.7 997.3L1122.3 985.4L1127.8 973.9L1133.4 962.9L1139.0 952.4L1144.6 942.2L1150.1 932.4L1155.7 923.0L1161.3 913.9L1166.9 905.1L1172.4 896.7L1178.0 888.7L1183.6 880.9L1189.2 873.4L1194.8 866.2L1200.3 859.3L1205.9 852.6L1211.5 846.2L1217.0 840.0L1222.6 834.1L1228.2 828.4L1233.8 822.9L1239.3 817.6L1244.9 812.5L1250.5 807.6L1256.1 802.9L1261.6 798.3L1267.2 794.0L1272.8 789.8L1278.4 785.7L1283.9 781.8L1289.5 778.1L1295.1 774.5L1300.7 771.0L1306.2 767.7L1311.8 764.5L1317.4 761.4L1323.0 758.4L1328.5 755.6L1334.1 752.8L1339.7 750.2L1345.3 747.6L1350.8 745.2L1356.4 742.8L1362.0 740.5L1367.6 738.4L1373.1 736.3L1378.7 734.2L1384.3 732.3L1389.9 730.4L1395.4 728.6L1401.0 726.9L1406.6 725.2L1412.2 723.6L1417.8 722.1L1423.3 720.6L1428.9 719.2L1434.5 717.8L1440.0 716.5L1445.6 715.2L1451.2 714.0L1456.8 712.8L1462.3 711.6L1467.9 710.5L1473.5 709.5L1479.1 708.5L1484.6 707.5L1490.2 706.6L1495.8 705.7L1501.4 704.8L1506.9 704.0L1512.5 703.2L1518.1 702.4L1523.7 701.7L1529.2 700.9L1534.8 700.3L1540.4 699.6L1546.0 699.0L1551.5 698.3L1557.1 697.8L1562.7 697.2L1568.3 696.6L1573.8 696.1L1579.4 695.6L1585.0 695.1L1590.6 694.7L1596.2 694.2L1601.7 693.8L1607.3 693.4L1612.9 693.0L1618.4 692.6L1624.0 692.2L1629.6 691.8" fill="none" stroke="#00f400" stroke-width="3.5" stroke-linecap="butt"/>
<path d="M1072.1 1110.7L1077.7 1098.5L1083.2 1086.7L1088.8 1075.2L1094.4 1064.0L1100.0 1053.2L1105.5 1042.6L1111.1 1032.3L1116.7 1022.3L1122.3 1012.6L1127.8 1003.1L1133.4 993.9L1139.0 985.0L1144.6 976.3L1150.1 967.9L1155.7 959.7L1161.3 951.7L1166.9 943.9L1172.4 936.3L1178.0 929.0L1183.6 921.8L1189.2 914.9L1194.8 908.1L1200.3 901.6L1205.9 895.2L1211.5 889.0L1217.0 882.9L1222.6 877.1L1228.2 871.4L1233.8 865.8L1239.3 860.4L1244.9 855.2L1250.5 850.1L1256.1 845.1L1261.6 840.3L1267.2 835.6L1272.8 831.0L1278.4 826.6L1283.9 822.3L1289.5 818.1L1295.1 814.0L1300.7 810.0L1306.2 806.1L1311.8 802.4L1317.4 798.7L1323.0 795.2L1328.5 791.8L1334.1 788.4L1339.7 785.1L1345.3 782.0L1350.8 778.9L1356.4 775.9L1362.0 773.0L1367.6 770.1L1373.1 767.4L1378.7 764.7L1384.3 762.1L1389.9 759.5L1395.4 757.1L1401.0 754.7L1406.6 752.4L1412.2 750.1L1417.8 747.9L1423.3 745.7L1428.9 743.7L1434.5 741.6L1440.0 739.7L1445.6 737.7L1451.2 735.9L1456.8 734.1L1462.3 732.3L1467.9 730.6L1473.5 728.9L1479.1 727.3L1484.6 725.7L1490.2 724.2L1495.8 722.7L1501.4 721.3L1506.9 719.9L1512.5 718.5L1518.1 717.2L1523.7 715.9L1529.2 714.6L1534.8 713.4L1540.4 712.2L1546.0 711.0L1551.5 709.9L1557.1 708.8L1562.7 707.7L1568.3 706.7L1573.8 705.7L1579.4 704.7L1585.0 703.8L1590.6 702.9L1596.2 702.0L1601.7 701.1L1607.3 700.2L1612.9 699.4L1618.4 698.6L1624.0 697.8L1629.6 697.1" fill="none" stroke="#0a0a0a" stroke-width="3.5" stroke-linecap="butt"/>
<rect x="1016.6" y="653.0" width="668.4" height="498.5" fill="none" stroke="#2b3a3d" stroke-width="2.8"/>
<path d="M1016.6 1110.7h12M1016.6 1069.2h7M1016.6 1027.6h12M1016.6 986.1h7M1016.6 944.5h12M1016.6 903.0h7M1016.6 861.4h12M1016.6 819.9h7M1016.6 778.3h12M1016.6 736.8h7M1016.6 695.2h12" stroke="#2b3a3d" stroke-width="2.6" fill="none"/>
<path d="M1016.3 1151.5v6.6M1072.1 1151.5v10.8M1127.8 1151.5v6.6M1183.6 1151.5v10.8M1239.3 1151.5v6.6M1295.1 1151.5v10.8M1350.8 1151.5v6.6M1406.6 1151.5v10.8M1462.3 1151.5v6.6M1518.1 1151.5v10.8M1573.8 1151.5v6.6M1629.6 1151.5v10.8M1685.3 1151.5v6.6" stroke="#2b3a3d" stroke-width="2.6" fill="none"/>
<text class="tk" text-anchor="end" x="1005.2" y="1120.1">0.0</text>
<text class="tk" text-anchor="end" x="1005.2" y="1037.0">0.2</text>
<text class="tk" text-anchor="end" x="1005.2" y="953.9">0.4</text>
<text class="tk" text-anchor="end" x="1005.2" y="870.8">0.6</text>
<text class="tk" text-anchor="end" x="1005.2" y="787.7">0.8</text>
<text class="tk" text-anchor="end" x="1005.2" y="704.6">1.0</text>
<text class="tk" text-anchor="middle" x="1072.1" y="1194">0</text>
<text class="tk" text-anchor="middle" x="1183.6" y="1194">1</text>
<text class="tk" text-anchor="middle" x="1295.1" y="1194">2</text>
<text class="tk" text-anchor="middle" x="1406.6" y="1194">3</text>
<text class="tk" text-anchor="middle" x="1518.1" y="1194">4</text>
<text class="tk" text-anchor="middle" x="1629.6" y="1194">5</text>
<text class="ax" x="1230.3" y="1241.6" textLength="233.5" lengthAdjust="spacingAndGlyphs">Time (days)</text>
<text class="ax" text-anchor="middle" transform="translate(944.8 895.8) rotate(-90)" style="font-size:42.3px">Release Rate (100%)</text>
<rect x="1273.6" y="977.5" width="18.4" height="18.4" fill="#0433ff"/>
<circle cx="1283.2" cy="1025.4" r="10.4" fill="#ff0a14"/>
<path d="M1247.4 1063.7H1318.3" stroke="#0a0a14" stroke-width="3.2"/>
<path d="M1247.4 1101.9H1318.3" stroke="#00f400" stroke-width="3.2"/>
<text class="lg" x="1324.8" y="996.3">5-FU@PI-3-COF</text>
<text class="lg" x="1324.8" y="1033.8">5-FU@PI-2-COF</text>
<text class="lg" x="1324.8" y="1072.2">Fit of 5-FU@PI-3-COF</text>
<text class="lg" x="1324.8" y="1110.4">Fit of 5-FU@PI-2-COF</text>
</g>
</svg>
</body>
</html>
